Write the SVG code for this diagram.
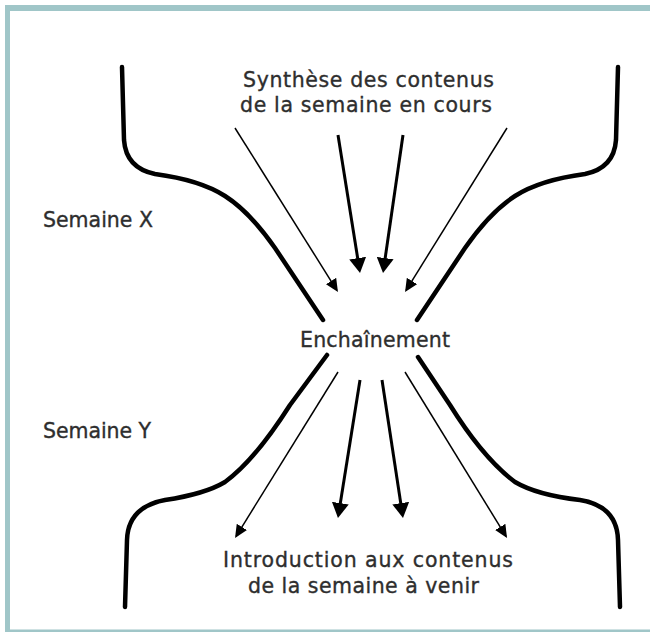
<svg xmlns="http://www.w3.org/2000/svg" width="650" height="632" viewBox="0 0 650 632">
  <style>
    .frame { fill: #a0c6c8; }
    .label { font-family: "DejaVu Sans", "Liberation Sans", sans-serif; font-size: 20.5px; fill: #2e2e2e; stroke: #2e2e2e; stroke-width: 0.35; }
    .mid { text-anchor: middle; }
    .wall { fill: none; stroke: #000000; stroke-width: 4.5; stroke-linecap: round; stroke-linejoin: round; }
    .thick { fill: none; stroke: #000000; stroke-width: 3; }
    .thin { fill: none; stroke: #000000; stroke-width: 1.5; }
  </style>
  <defs>
    <marker id="headThick" markerUnits="userSpaceOnUse" markerWidth="15" markerHeight="17" refX="11" refY="8.5" orient="auto">
      <path d="M0,0 L15,8.5 L0,17 z" fill="#000000"/>
    </marker>
    <marker id="headThin" markerUnits="userSpaceOnUse" markerWidth="13" markerHeight="12" refX="11" refY="6" orient="auto">
      <path d="M0,0 L13,6 L0,12 z" fill="#000000"/>
    </marker>
  </defs>

  <rect width="650" height="632" fill="#ffffff"/>

  <!-- frame: heavy top and left edges, light bottom edge -->
  <g id="frame">
    <rect class="frame" x="5" y="5" width="645" height="6"/>
    <rect class="frame" x="5" y="5" width="5" height="627"/>
    <rect class="frame" x="5" y="629.5" width="645" height="2.5"/>
  </g>

  <!-- funnel walls -->
  <g id="walls">
    <path class="wall" d="M122,67 L124,140 Q126,168 155,174 Q200,180 225,196 Q250,212 275,248 L323,320"/>
    <path class="wall" d="M618,67 L616,140 Q614,168 585,174 Q540,180 515,196 Q490,212 465,248 L417,320"/>
    <path class="wall" d="M327,355 L290,405 Q255,460 225,482 Q205,494 165,500 Q128,507 127,540 L125,607"/>
    <path class="wall" d="M418,357 L450,405 Q483,458 515,482 Q537,495 580,500 Q617,506 618,540 L620,607"/>
  </g>

  <!-- arrows -->
  <g id="connectors">
    <line class="thin" x1="235" y1="128" x2="336.9" y2="290.3" marker-end="url(#headThin)"/>
    <line class="thick" x1="338" y1="135" x2="359.4" y2="269" marker-end="url(#headThick)"/>
    <line class="thick" x1="403" y1="135" x2="383.6" y2="269" marker-end="url(#headThick)"/>
    <line class="thin" x1="507" y1="128" x2="406.1" y2="290.3" marker-end="url(#headThin)"/>

    <line class="thin" x1="338" y1="372" x2="236.1" y2="536.3" marker-end="url(#headThin)"/>
    <line class="thick" x1="360" y1="380" x2="338.6" y2="514" marker-end="url(#headThick)"/>
    <line class="thick" x1="382" y1="380" x2="402.4" y2="514" marker-end="url(#headThick)"/>
    <line class="thin" x1="405" y1="372" x2="506" y2="536.3" marker-end="url(#headThin)"/>
  </g>

  <g id="synthese">
    <text class="label" x="243" y="87" textLength="251" lengthAdjust="spacing">Synthèse des contenus</text>
    <text class="label" x="240" y="112" textLength="252" lengthAdjust="spacing">de la semaine en cours</text>
  </g>
  <g id="enchainement">
    <text class="label" x="300" y="347" textLength="150" lengthAdjust="spacing">Enchaînement</text>
  </g>
  <g id="introduction">
    <text class="label" x="223" y="567" textLength="290" lengthAdjust="spacing">Introduction aux contenus</text>
    <text class="label" x="248" y="593" textLength="231" lengthAdjust="spacing">de la semaine à venir</text>
  </g>
  <g id="semaine-x">
    <text class="label" x="43" y="227" textLength="110" lengthAdjust="spacing">Semaine X</text>
  </g>
  <g id="semaine-y">
    <text class="label" x="43" y="438" textLength="108" lengthAdjust="spacing">Semaine Y</text>
  </g>
</svg>
